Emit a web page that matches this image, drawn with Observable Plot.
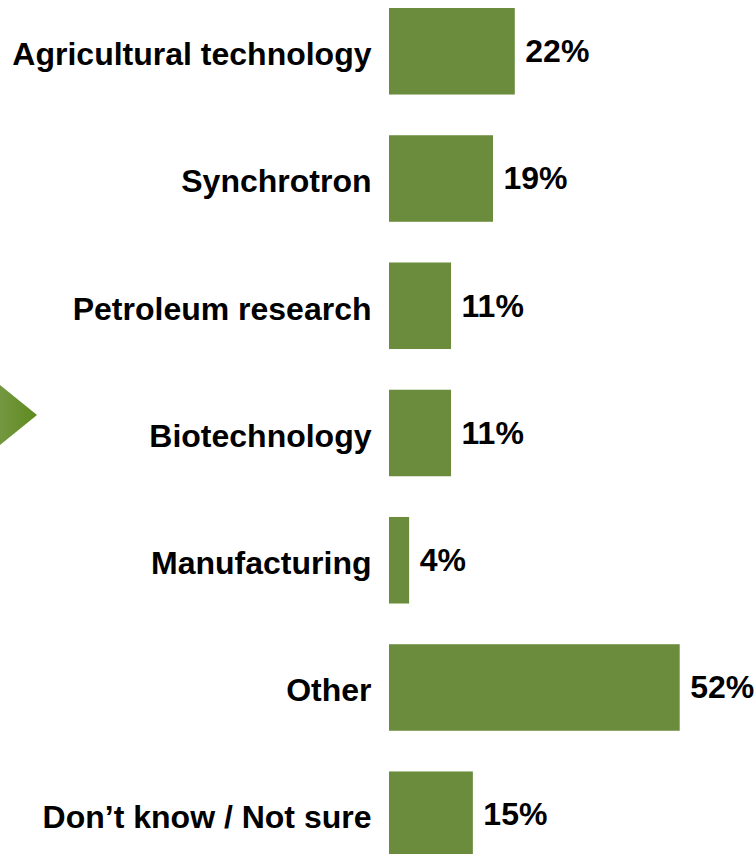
<!DOCTYPE html>
<html>
<head>
<meta charset="utf-8">
<script src="https://cdn.jsdelivr.net/npm/d3@7"></script>
<script src="https://cdn.jsdelivr.net/npm/@observablehq/plot@0.6"></script>
<style>
  html, body { margin: 0; padding: 0; background: #fff; }
  #wrap { position: relative; width: 755px; height: 854px; overflow: hidden; }
  #wrap svg.deco { position: absolute; left: 0; top: 0; pointer-events: none; }
</style>
</head>
<body>
<div id="wrap"></div>
<script>
const categories = [
  "Agricultural technology",
  "Synchrotron",
  "Petroleum research",
  "Biotechnology",
  "Manufacturing",
  "Other",
  "Don’t know / Not sure"
];
// bar lengths (percent)
const values = [22.5, 18.6, 11.1, 11.1, 3.6, 52, 15];
// printed labels
const valueLabels = ["22%", "19%", "11%", "11%", "4%", "52%", "15%"];

const data = categories.map((c, i) => ({category: c, value: values[i], label: valueLabels[i]}));

const font = "'Liberation Sans', Arial, Helvetica, sans-serif";

const chart = Plot.plot({
  width: 755,
  height: 854,
  margin: 0,
  style: {fontFamily: font, background: "transparent", overflow: "visible"},
  x: {domain: [0, 52], range: [389, 679.7], axis: null},
  y: {domain: categories, range: [8, 858], paddingInner: 0.32, paddingOuter: 0, round: false, axis: null},
  marks: [
    Plot.barX(data, {x: "value", y: "category", fill: "#6a8c3c"}),
    Plot.text(data, {
      x: 0, y: "category", text: "category",
      textAnchor: "end", dx: -18, dy: 3,
      fontSize: 32, fontWeight: "bold", fill: "#000"
    }),
    Plot.text(data, {
      x: "value", y: "category", text: "label",
      textAnchor: "start", dx: 10, dy: 0,
      fontSize: 32, fontWeight: "bold", fill: "#000"
    })
  ]
});

const wrap = document.getElementById("wrap");
wrap.appendChild(chart);

// decorative arrow on the left edge
const ns = "http://www.w3.org/2000/svg";
const deco = document.createElementNS(ns, "svg");
deco.setAttribute("class", "deco");
deco.setAttribute("width", 755);
deco.setAttribute("height", 854);
deco.innerHTML = `
  <defs>
    <linearGradient id="tri" x1="0" y1="0" x2="1" y2="0">
      <stop offset="0" stop-color="#7a9b4a"/>
      <stop offset="1" stop-color="#5e8a1e"/>
    </linearGradient>
  </defs>
  <polygon points="-10,377 37,415 -10,453" fill="url(#tri)"/>`;
wrap.appendChild(deco);
</script>
</body>
</html>
